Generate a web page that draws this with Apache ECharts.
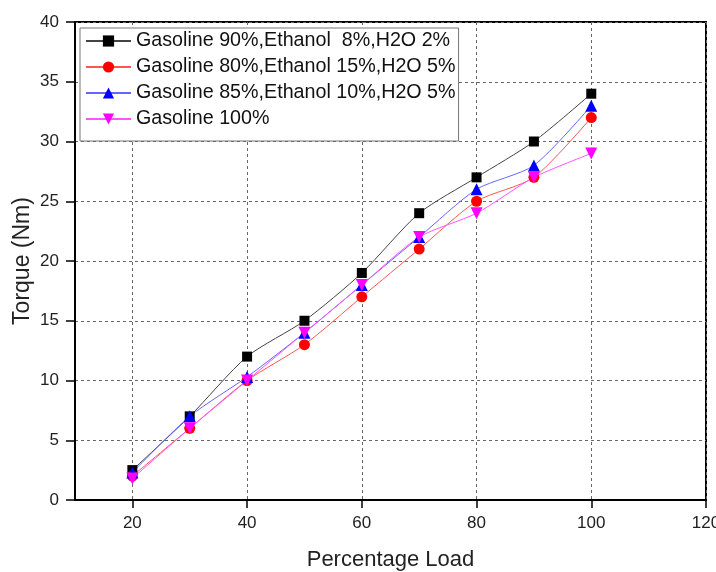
<!DOCTYPE html>
<html>
<head>
<meta charset="utf-8">
<script src="https://cdn.jsdelivr.net/npm/echarts@6/dist/echarts.min.js"></script>
<style>
  html, body { margin: 0; padding: 0; background: #fff; }
  #chart { width: 716px; height: 572px; }
</style>
</head>
<body>
<div id="chart"></div>
<script>
// Engine torque versus load for four fuel blends
const loads = [20, 30, 40, 50, 60, 70, 80, 90, 100];
const blendA = [2.5, 7, 12, 15, 19, 24, 27, 30, 34];     // G90 E8 W2
const blendB = [2, 6, 10, 13, 17, 21, 25, 27, 32];       // G80 E15 W5
const blendC = [2.3, 7, 10.3, 14, 18, 22, 26, 28, 33];   // G85 E10 W5
const gasoline = [1.8, 6, 10, 14, 18, 22, 24, 27, 29];   // G100
const xTicks = [20, 40, 60, 80, 100, 120];
const seriesNames = [
  'Gasoline 90%,Ethanol  8%,H2O 2%',
  'Gasoline 80%,Ethanol 15%,H2O 5%',
  'Gasoline 85%,Ethanol 10%,H2O 5%',
  'Gasoline 100%'
];

const pair = (ys) => loads.map((x, i) => [x, ys[i]]);
const font = 'Arial, "Liberation Sans", sans-serif';
const downTri = 'path://M0,0 L10,0 L5,9 Z';

function lineSeries(name, ys, color, lineColor, symbol, size) {
  return {
    name: name,
    type: 'line',
    data: pair(ys),
    smooth: 0.25,
    symbol: symbol,
    symbolSize: size,
    itemStyle: { color: color },
    lineStyle: { color: lineColor, width: 1 },
    emphasis: { disabled: true }
  };
}

const chart = echarts.init(document.getElementById('chart'), null, { renderer: 'canvas' });
chart.setOption({
  animation: false,
  backgroundColor: '#fff',
  grid: {
    left: 75, right: 10, top: 22, bottom: 72,
    outerBoundsMode: 'none', containLabel: false,
    show: true, borderColor: '#000', borderWidth: 2
  },
  legend: {
    left: 80, top: 28,
    orient: 'vertical',
    itemWidth: 45, itemHeight: 14, itemGap: 6,
    padding: [3, 3, 12, 5],
    borderColor: '#777', borderWidth: 1,
    backgroundColor: '#fff',
    textStyle: { fontFamily: font, fontSize: 19.7, lineHeight: 19, color: '#111' },
    data: seriesNames
  },
  xAxis: {
    type: 'value', min: 10, max: 120, interval: 10,
    name: 'Percentage Load', nameLocation: 'middle', nameGap: 49,
    nameMoveOverlap: false,
    nameTextStyle: { fontFamily: font, fontSize: 22, color: '#222' },
    axisLine: { show: true, onZero: false, lineStyle: { color: '#000', width: 2 } },
    axisTick: { show: true, length: 8, customValues: xTicks,
      lineStyle: { color: '#000', width: 1.5 } },
    axisLabel: { fontFamily: font, fontSize: 17, color: '#222', margin: 15,
      customValues: xTicks },
    splitLine: { show: true, lineStyle: { color: '#666', type: [3, 3], width: 1 } }
  },
  yAxis: {
    type: 'value', min: 0, max: 40, interval: 5,
    name: 'Torque (Nm)', nameLocation: 'middle', nameGap: 41,
    nameMoveOverlap: false,
    nameTextStyle: { fontFamily: font, fontSize: 23, color: '#222' },
    axisLine: { show: true, lineStyle: { color: '#000', width: 2 } },
    axisTick: { show: true, length: 9, lineStyle: { color: '#000', width: 1.5 } },
    axisLabel: { fontFamily: font, fontSize: 17, color: '#222', margin: 16 },
    splitLine: { show: true, lineStyle: { color: '#666', type: [3, 3], width: 1 } }
  },
  series: [
    lineSeries(seriesNames[0], blendA, '#000', '#444', 'rect', 10),
    lineSeries(seriesNames[1], blendB, '#ff0000', '#ff5555', 'circle', 11),
    lineSeries(seriesNames[2], blendC, '#0000ff', '#6666ff', 'triangle', 12),
    lineSeries(seriesNames[3], gasoline, '#ff00ff', '#ff55ff', downTri, 12)
  ]
});
</script>
</body>
</html>
